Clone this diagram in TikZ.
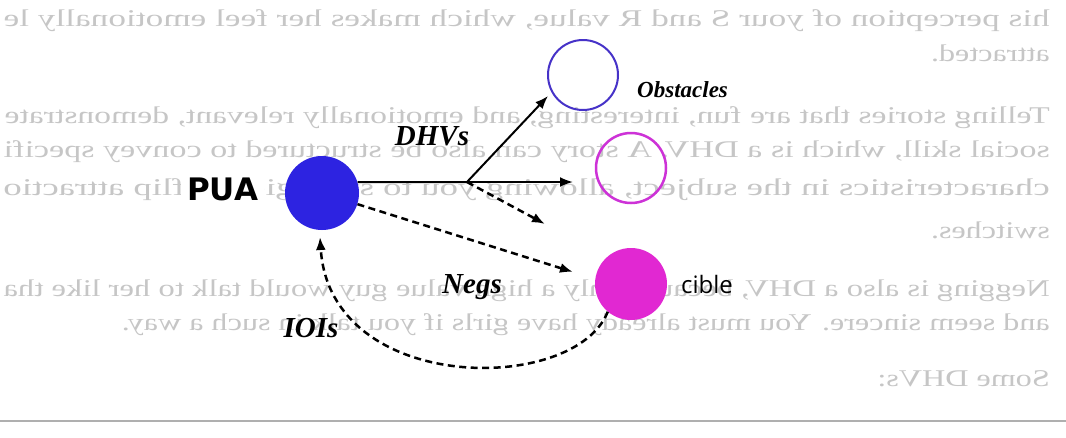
\documentclass[tikz,border=0pt]{standalone}
\usepackage{graphicx}
\usepackage{fontspec}
\setmainfont{Liberation Serif}
\newfontfamily\dejab{DejaVu Sans}
\newfontfamily\opens{Open Sans}
\usetikzlibrary{arrows.meta}
\definecolor{puablue}{RGB}{45,35,225}
\definecolor{obsblue}{RGB}{70,50,200}
\definecolor{magline}{RGB}{205,50,215}
\definecolor{cibmag}{RGB}{225,40,210}
\definecolor{bggray}{RGB}{198,198,198}
\definecolor{rulegray}{RGB}{175,175,175}
% short (unjustified) line of the mirrored page text
\newcommand{\bgline}[2]{\node[bgtext] at (1050,#1) {\scalebox{-1.34}[1]{#2}};}
% full (justified) line, stretched to a given width
\newcommand{\bgfit}[3]{\node[bgtext] at (1050,#1) {\reflectbox{\resizebox{#2pt}{\height}{#3}}};}
\begin{document}
\begin{tikzpicture}[x=1pt,y=-1pt,
  bgtext/.style={anchor=base east, inner sep=0pt, text=bggray, font=\fontsize{24}{24}\selectfont},
  lbl/.style={font=\fontsize{29}{29}\selectfont\bfseries\itshape, inner sep=0pt},
  conn/.style={line width=2pt, -{Latex[length=13pt,width=10pt]}},
  dconn/.style={line width=2.5pt, dash pattern=on 7pt off 4.5pt, -{Latex[length=13pt,width=10pt]}},
  disc/.style={circle, inner sep=0pt, minimum size=#1},
]
\useasboundingbox (0,0) rectangle (1066,437);
\fill[white] (0,0) rectangle (1066,437);
% faint page text showing through (mirrored)
\bgfit{26}{1046}{his perception of your S and R value, which makes her feel emotionally le}
\bgline{61}{attracted.}
\bgfit{123}{1045}{Telling stories that are fun, interesting, and emotionally relevant, demonstrate}
\bgfit{157}{1046}{social skill, which is a DHV. A story can also be structured to convey specifi}
\bgfit{195}{1046}{characteristics in the subject, allowing you to strategically flip attractio}
\bgline{238}{switches.}
\bgfit{296}{1046}{Negging is also a DHV, because only a high value guy would talk to her like tha}
\bgline{330}{and seem sincere. You must already have girls if you talk in such a way.}
\bgline{386}{Some DHVs:}
\draw[rulegray, line width=1.5pt] (0,421) -- (1066,421);

% nodes
\node[disc=74pt, fill=puablue] (pua) at (322,193) {};
\node[disc=70pt, draw=obsblue, line width=2pt] (obs) at (583,75) {};
\node[disc=70pt, draw=magline, line width=2.5pt] (mag) at (631,168) {};
\node[disc=72pt, fill=cibmag] (cib) at (631,284) {};

\node[anchor=base west, font=\dejab\bfseries\fontsize{31}{31}\selectfont, fill=white, inner sep=6pt] (pualbl) at (181,200) {PUA};
\node[anchor=base west, font=\opens\fontsize{24}{24}\selectfont, inner sep=0pt] (ciblbl) at (681,293) {cible};
\node[anchor=base west, font=\fontsize{23}{23}\selectfont\bfseries\itshape, inner sep=0pt] (obslbl) at (637,97) {Obstacles};
\node[lbl] (dhv) at (432,136) {DHVs};
\node[lbl] (negs) at (472,287) {Negs};
\node[lbl] (iois) at (311,328) {IOIs};

% connector ends
\coordinate (j) at (467,182);
\coordinate (t1) at (548,96);
\coordinate (t2) at (573,182);
\coordinate (t3) at (545,224);
\coordinate (t4) at (573,272);
\coordinate (t5) at (320,237);

\draw[line width=2pt] (pua.17) -- (j);
\draw[conn] (j) -- (t1);
\draw[conn] (j) -- (t2);
\draw[dconn] (j) -- (t3);
\draw[dconn] (pua) -- (t4);
\draw[dconn] (cib.230) .. controls (575,395) and (330,395) .. (t5);
\end{tikzpicture}
\end{document}
